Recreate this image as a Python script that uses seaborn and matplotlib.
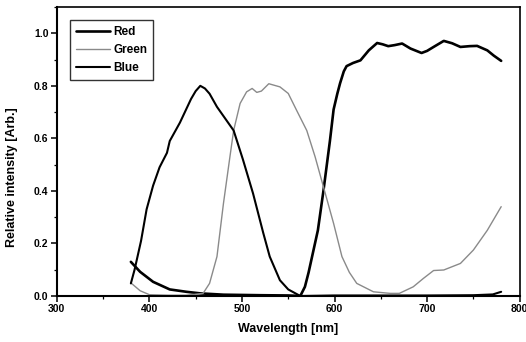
import numpy as np
import pandas as pd
import matplotlib
matplotlib.use("Agg")
import matplotlib.pyplot as plt
import seaborn as sns
from matplotlib.ticker import MultipleLocator

# ---- data ----
red_wl = [380, 390, 404, 422, 440, 455, 480, 520, 550, 563, 568, 572, 577, 582, 588, 595, 599,
          603, 606, 610, 613, 620, 628, 637, 646, 652, 658, 665, 673, 682, 694, 700, 707, 718,
          727, 736, 746, 754, 765, 772, 780]
red_val = [0.13, 0.092, 0.054, 0.025, 0.016, 0.010, 0.005, 0.003, 0.002, 0.0, 0.035, 0.09,
           0.17, 0.25, 0.40, 0.59, 0.71, 0.77, 0.81, 0.855, 0.875, 0.887, 0.897, 0.935, 0.963,
           0.958, 0.951, 0.955, 0.961, 0.942, 0.925, 0.933, 0.948, 0.971, 0.962, 0.948, 0.951,
           0.952, 0.935, 0.915, 0.895]

green_wl = [380, 390, 400, 420, 440, 458, 465, 473, 480, 487, 491, 498, 505, 511, 516, 521,
            529, 541, 550, 559, 570, 579, 589, 599, 608, 616, 624, 642, 660, 670, 685, 696,
            707, 718, 736, 750, 765, 780]
green_val = [0.05, 0.02, 0.005, 0.003, 0.003, 0.01, 0.048, 0.15, 0.352, 0.53, 0.63, 0.733,
             0.777, 0.79, 0.775, 0.78, 0.808, 0.796, 0.771, 0.707, 0.63, 0.53, 0.403, 0.276,
             0.15, 0.09, 0.048, 0.016, 0.01, 0.01, 0.035, 0.067, 0.097, 0.099, 0.124, 0.175,
             0.25, 0.34]

blue_wl = [380, 384, 391, 397, 404, 411, 419, 422, 433, 445, 450, 455, 460, 465, 473, 481,
           491, 501, 512, 523, 530, 541, 550, 563, 600, 650, 700, 750, 771, 780]
blue_val = [0.048, 0.10, 0.21, 0.33, 0.42, 0.49, 0.545, 0.59, 0.66, 0.75, 0.78, 0.80, 0.79,
            0.77, 0.72, 0.68, 0.63, 0.52, 0.39, 0.24, 0.15, 0.06, 0.025, 0.0, 0.002, 0.002,
            0.002, 0.003, 0.006, 0.016]

series_names = ["Red", "Green", "Blue"]
x_ticks = [300, 400, 500, 600, 700, 800]
y_ticks = [0.0, 0.2, 0.4, 0.6, 0.8, 1.0]

df = pd.concat([
    pd.DataFrame({"wl": red_wl, "val": red_val, "series": "Red"}),
    pd.DataFrame({"wl": green_wl, "val": green_val, "series": "Green"}),
    pd.DataFrame({"wl": blue_wl, "val": blue_val, "series": "Blue"}),
], ignore_index=True)

sns.set_style("ticks")
plt.rcParams["font.family"] = ["Liberation Sans", "DejaVu Sans"]
plt.rcParams["font.weight"] = "bold"
plt.rcParams["text.color"] = "black"
plt.rcParams["axes.labelcolor"] = "black"
plt.rcParams["xtick.color"] = "black"
plt.rcParams["ytick.color"] = "black"
plt.rcParams["axes.edgecolor"] = "black"

fig = plt.figure(figsize=(5.26, 3.42), dpi=100)
ax = fig.add_axes([0.108, 0.1345, 0.880, 0.845])

styles = {"Red": dict(color="black", lw=1.9),
          "Green": dict(color="#8a8a8a", lw=1.0),
          "Blue": dict(color="black", lw=1.5)}

for name in series_names:
    sub = df[df["series"] == name]
    sns.lineplot(data=sub, x="wl", y="val", ax=ax, sort=False, label=name,
                 estimator=None, **styles[name])

ax.set_xlim(300, 800)
ax.set_ylim(0, 1.1)
ax.set_xticks(x_ticks)
ax.set_yticks(y_ticks)
ax.set_yticklabels([f"{v:.1f}" for v in y_ticks])
ax.xaxis.set_minor_locator(MultipleLocator(50))
ax.yaxis.set_minor_locator(MultipleLocator(0.1))
ax.tick_params(which="major", direction="out", length=4, width=1.1, labelsize=7.5, pad=2)
ax.tick_params(which="minor", direction="out", length=2, width=0.9)
for lab in ax.get_xticklabels() + ax.get_yticklabels():
    lab.set_fontweight("bold")

for side in ["left", "bottom"]:
    ax.spines[side].set_linewidth(1.5)
for side in ["top", "right"]:
    ax.spines[side].set_linewidth(1.2)
    ax.spines[side].set_visible(True)

ax.set_xlabel("Wavelength [nm]", fontsize=9, fontweight="bold", labelpad=6)
ax.set_ylabel("Relative intensity [Arb.]", fontsize=9, fontweight="bold")
ax.yaxis.set_label_coords(-0.083, 0.41)

leg = ax.legend(loc="upper left", bbox_to_anchor=(0.028, 0.955), borderaxespad=0,
                frameon=True, fancybox=False, prop={"size": 8.5, "weight": "bold"},
                handlelength=2.9, handletextpad=0.3, labelspacing=0.5, borderpad=0.5)
leg.get_frame().set_edgecolor("black")
leg.get_frame().set_linewidth(1.0)

fig.savefig("out.png", dpi=100)
